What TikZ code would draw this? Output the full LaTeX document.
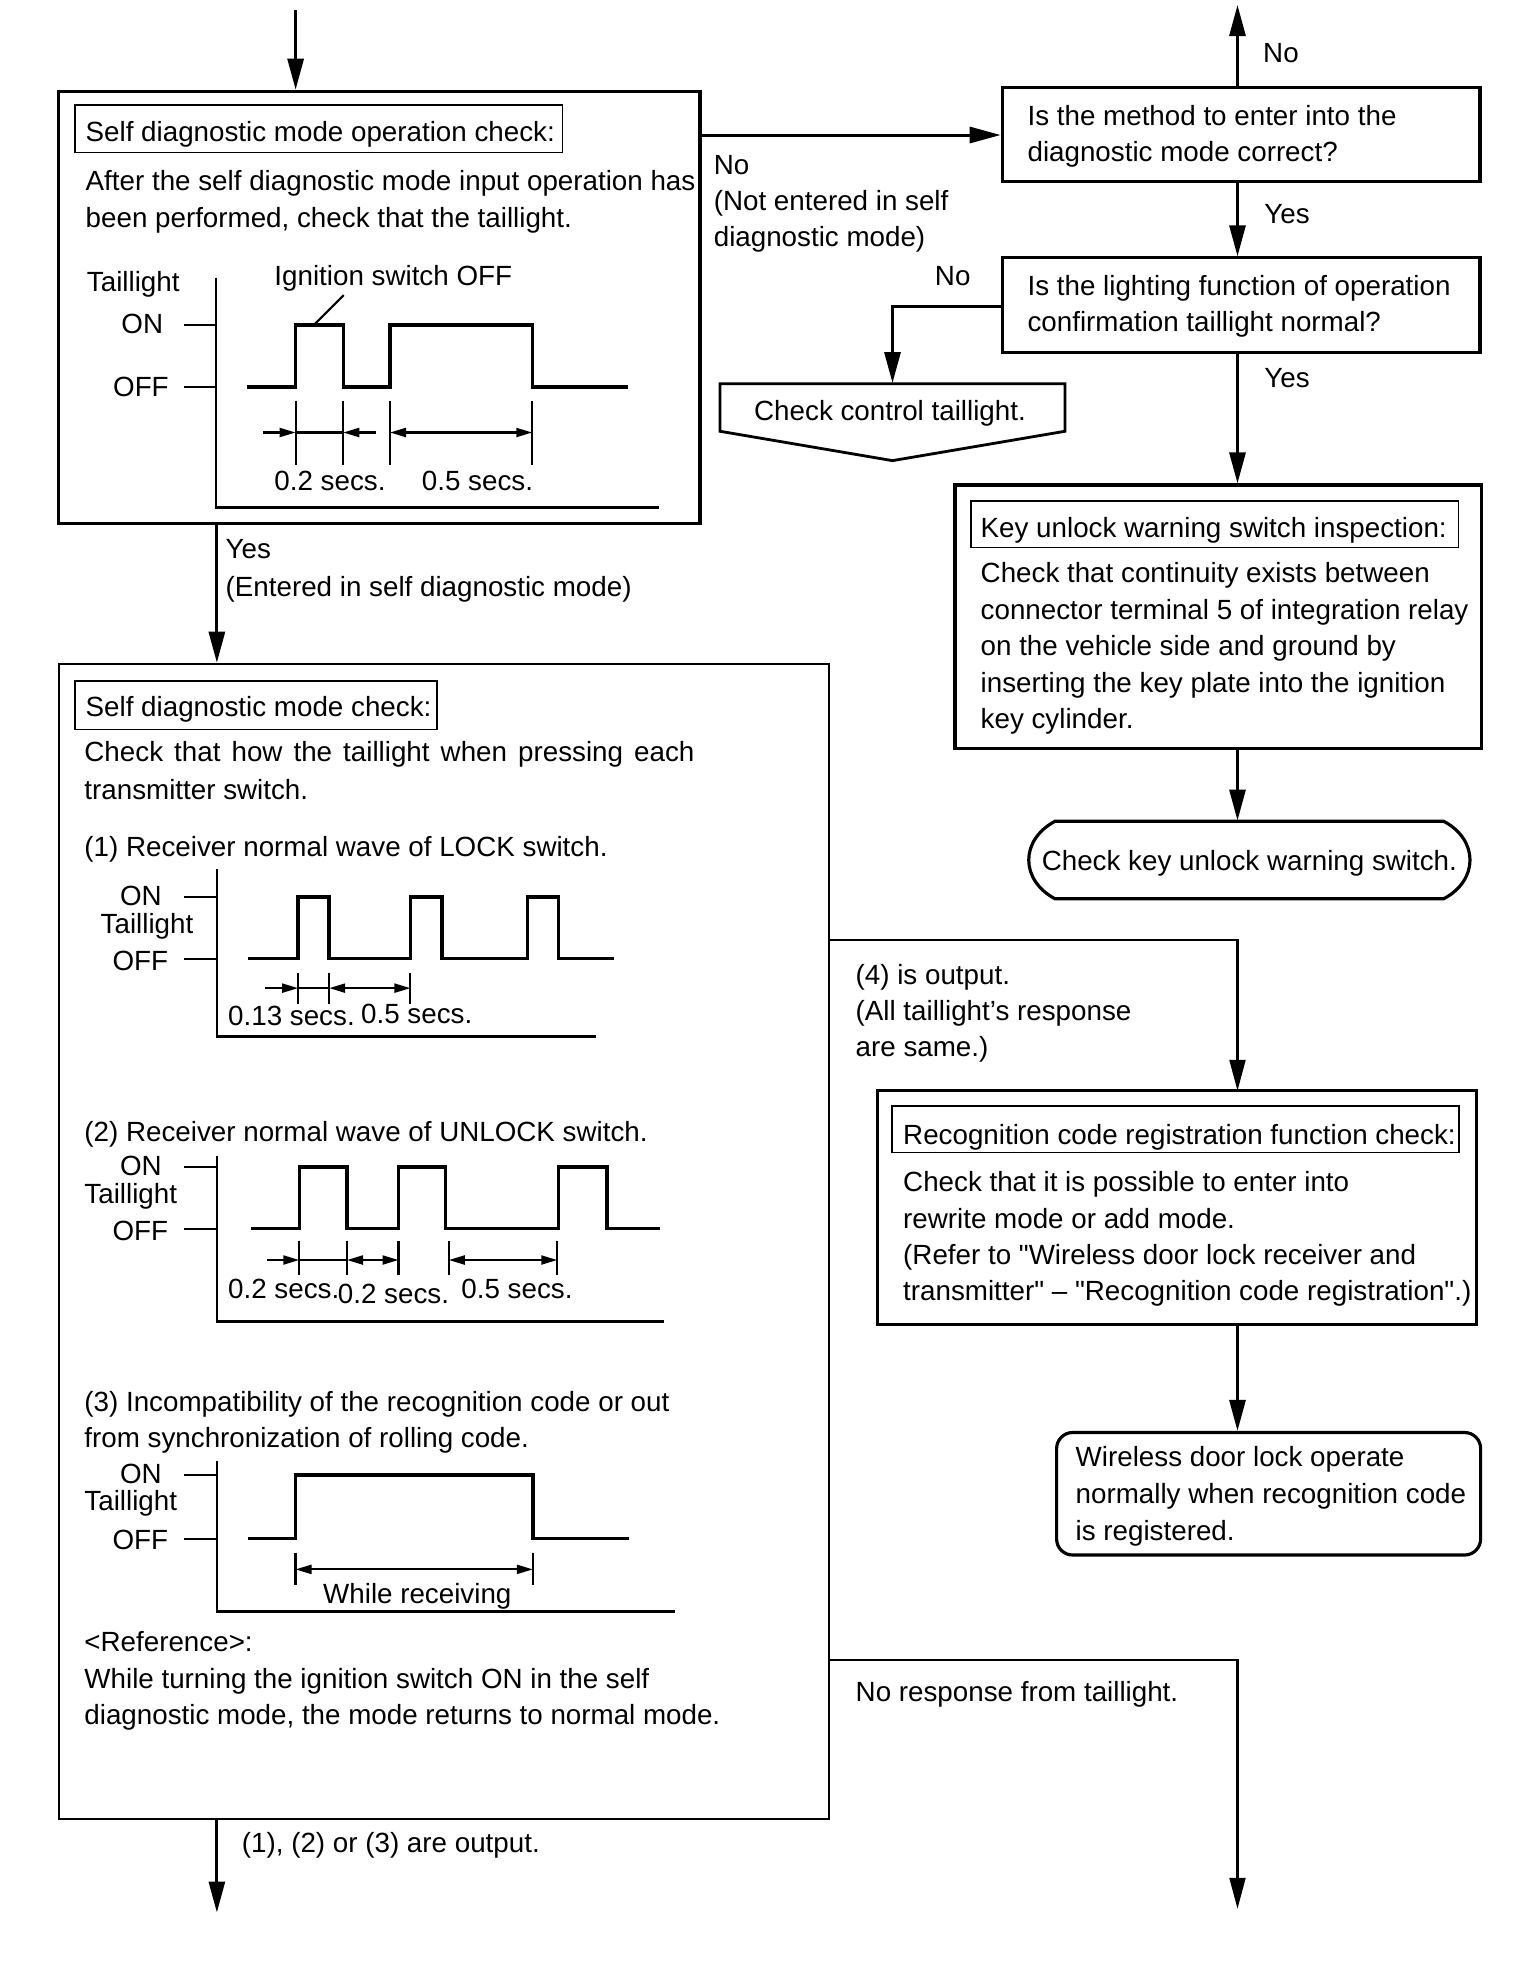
\documentclass[tikz,border=0pt]{standalone}
\usepackage{fontspec}
\setmainfont{Liberation Sans}
\usetikzlibrary{arrows.meta,fit}
\newcommand{\mlines}[1]{\begin{tabular}[t]{@{}l@{}}#1\end{tabular}}
\newcommand{\sq}{\XeTeXglyph\XeTeXcharglyph"22\relax}
\begin{document}
\begin{tikzpicture}[x=0.125mm,y=-0.125mm,
  font=\fontsize{7.9}{10.6}\selectfont,
  box/.style={draw, line width=0.9pt, inner sep=0},
  thinbox/.style={draw, line width=0.6pt, inner sep=0},
  tbox/.style={draw, line width=0.5pt, inner sep=0},
  txt/.style={inner sep=0, anchor=base west},
  tight/.style={font=\fontsize{7.9}{10.3}\selectfont},
  arr/.style={line width=0.85pt, -{Triangle[length=3.1mm,width=1.6mm]}},
  tarr/.style={line width=0.6pt, -{Triangle[length=3.1mm,width=1.6mm]}},
  wave/.style={line width=0.95pt},
  axis/.style={line width=0.7pt},
  dim/.style={line width=0.6pt},
  dtip/.style={line width=0.6pt, -{Triangle[length=1.6mm,width=0.9mm]}},
  ddtip/.style={line width=0.6pt, {Triangle[length=1.6mm,width=0.9mm]}-{Triangle[length=1.6mm,width=0.9mm]}},
]
\useasboundingbox (0,0) rectangle (1216,1574.4);

% ---------- helper coordinates ----------
\coordinate (ax) at (173.5,0);
\coordinate (cx) at (990,0);
\coordinate (top) at (236.5,8);
\coordinate (upend) at (990,4);
\coordinate (a1) at (560,108);
\coordinate (c1) at (714,245);
\coordinate (e1) at (663,752);
\coordinate (e2) at (663,1328);
\coordinate (endL) at (173.5,1530);
\coordinate (endR) at (990,1527);

% ---------- Box A ----------
\node[box, fit={(47,73)(560,419)}] (A) {};
\node[tbox, fit={(60,84)(450,122)}] (At) {};
\node[txt] (Att) at (68,113.5) {Self diagnostic mode operation check:};
\node[txt] (Ab) at (68,152) {\mlines{After the self diagnostic mode input operation has\\been performed, check that the taillight.}};
% chart A
\draw[axis] (173,222) -- (173,406) -- (527,406);
\draw[axis] (147,260) -- (173,260) (147,309.5) -- (173,309.5);
\node[txt] (Atl) at (69,233.5) {Taillight};
\node[txt, anchor=base east] (Aon) at (131,267) {ON};
\node[txt, anchor=base east] (Aoff) at (135.5,317) {OFF};
\draw[wave] (197.8,309.5) -| (236.5,260) -| (274.6,309.5) -| (312,260) -| (425.8,309.5) -- (502,309.5);
\node[txt] (Aig) at (219,228) {Ignition switch OFF};
\draw[dim] (275,236) -- (251,260);
\draw[dim] (236.5,320.5) -- (236.5,372) (274.6,320.5) -- (274.6,372) (312,320.5) -- (312,372) (425.8,320.5) -- (425.8,372);
\draw[dtip] (210.6,346) -- (236.5,346);
\draw[dim] (236.5,346) -- (274.6,346);
\draw[dtip] (300.5,346) -- (274.6,346);
\draw[ddtip] (312,346) -- (425.8,346);
\node[txt] (Ad1) at (219,392) {0.2 secs.};
\node[txt] (Ad2) at (337,392) {0.5 secs.};

% top entry arrow
\draw[arr] (top) -- (A.north -| top);

% ---------- Box E ----------
\node[thinbox, fit={(47.5,531)(663,1455)}] (E) {};
\node[tbox, fit={(60,544.5)(349.6,583.5)}] (Et) {};
\node[txt] (Ett) at (68,573.5) {Self diagnostic mode check:};
\node[txt] (Eb) at (67,609.5) {\mlines{\makebox[61mm][s]{Check that how the taillight when pressing each}\\transmitter switch.}};
\node[txt] (E1) at (67,685.5) {(1) Receiver normal wave of LOCK switch.};
% chart 1
\draw[axis] (173.5,695) -- (173.5,829) -- (477,829);
\draw[axis] (147.5,717.5) -- (173.5,717.5) (147.5,767) -- (173.5,767);
\node[txt, anchor=base east] (C1on) at (130,724) {ON};
\node[txt] (C1tl) at (80,746.5) {Taillight};
\node[txt, anchor=base east] (C1off) at (135,776) {OFF};
\draw[wave] (198.6,767) -| (238.5,717.5) -| (263.3,767) -| (328.3,717.5) -| (353.5,767) -| (422,717.5) -| (446.7,767) -- (491,767);
\draw[dim] (238.5,778) -- (238.5,803) (263.3,778) -- (263.3,803) (328.3,778) -- (328.3,803);
\draw[dtip] (211.6,790.5) -- (238.5,790.5);
\draw[dim] (238.5,790.5) -- (263.3,790.5);
\draw[ddtip] (263.3,790.5) -- (328.3,790.5);
\node[txt] (C1d1) at (182,820.5) {0.13 secs.};
\node[txt] (C1d2) at (288.4,818.5) {0.5 secs.};

\node[txt] (E2) at (67,913.5) {(2) Receiver normal wave of UNLOCK switch.};
% chart 2
\draw[axis] (173.5,925) -- (173.5,1057) -- (531,1057);
\draw[axis] (147.5,933.5) -- (173.5,933.5) (147.5,983) -- (173.5,983);
\node[txt, anchor=base east] (C2on) at (130,940.5) {ON};
\node[txt] (C2tl) at (67,962.5) {Taillight};
\node[txt, anchor=base east] (C2off) at (135,992) {OFF};
\draw[wave] (200.8,983) -| (239.4,933.5) -| (277.6,983) -| (318.8,933.5) -| (356.5,983) -| (446.7,933.5) -| (485.7,983) -- (528.2,983);
\draw[dim] (239.4,993) -- (239.4,1020) (277.6,993) -- (277.6,1020) (318.8,993) -- (318.8,1020) (359,993) -- (359,1020) (445.8,993) -- (445.8,1020);
\draw[dtip] (213.8,1008) -- (239.4,1008);
\draw[dim] (239.4,1008) -- (277.6,1008);
\draw[ddtip] (277.6,1008) -- (318.8,1008);
\draw[ddtip] (359,1008) -- (445.8,1008);
\node[txt] (C2d1) at (182,1038.5) {0.2 secs.};
\node[txt] (C2d2) at (269.8,1042.5) {0.2 secs.};
\node[txt] (C2d3) at (368.6,1038.5) {0.5 secs.};

\node[txt, tight] (E3) at (67,1129) {\mlines{(3) Incompatibility of the recognition code or out\\from synchronization of rolling code.}};
% chart 3
\draw[axis] (173.5,1169) -- (173.5,1289) -- (540,1289);
\draw[axis] (147.5,1180) -- (173.5,1180) (147.5,1231) -- (173.5,1231);
\node[txt, anchor=base east] (C3on) at (130,1186.5) {ON};
\node[txt] (C3tl) at (67,1208) {Taillight};
\node[txt, anchor=base east] (C3off) at (135,1239.5) {OFF};
\draw[wave] (198.2,1231) -| (236.4,1180) -| (426.3,1231) -- (503,1231);
\draw[dim] (236.4,1242) -- (236.4,1268) (426.3,1242) -- (426.3,1268);
\draw[ddtip] (236.4,1255.5) -- (426.3,1255.5);
\node[txt] (C3d) at (258,1282.5) {While receiving};

\node[txt, tight] (Eref) at (67,1321.5) {\mlines{<Reference>:\\While turning the ignition switch ON in the self\\diagnostic mode, the mode returns to normal mode.}};

% A -> E
\draw[arr] (A.south -| ax) -- (E.north -| ax);
\node[txt] (Lyes) at (180,447) {\mlines{Yes\\(Entered in self diagnostic mode)}};

% E -> bottom
\draw[arr] (E.south -| ax) -- (endL);
\node[txt] (Lout) at (193,1482) {(1), (2) or (3) are output.};

% ---------- Right column ----------
\node[box, fit={(801.8,70)(1184,145)}] (B) {};
\node[txt, tight] (Bt) at (821.5,100.5) {\mlines{Is the method to enter into the\\diagnostic mode correct?}};
\node[box, fit={(801.8,206.3)(1184,282.2)}] (C) {};
\node[txt, tight] (Ct) at (821.5,236.5) {\mlines{Is the lighting function of operation\\confirmation taillight normal?}};

\draw[arr] (A.east |- a1) -- (B.west |- a1);
\node[txt, tight] (Lno1) at (570.5,139.5) {\mlines{No\\(Not entered in self\\diagnostic mode)}};

\draw[arr] (B.north -| cx) -- (upend);
\node[txt] (Lno2) at (1010,50) {No};
\draw[arr] (B.south -| cx) -- (C.north -| cx);
\node[txt] (Lyes2) at (1011,179) {Yes};

% pentagon
\node[inner sep=0, fit={(576,307)(852,368.5)}] (P) {};
\draw[line width=0.8pt] (576,307) -- (852,307) -- (852,345) -- (714,368.5) -- (576,345) -- cycle;
\node[txt, anchor=base] (Pt) at (712,336) {Check control taillight.};
\draw[arr] (C.west |- c1) -| (P.north);
\node[txt] (Lno3) at (747.4,228.5) {No};

% box D
\node[box, fit={(764,388)(1185,599)}] (D) {};
\node[tbox, fit={(776.7,401)(1166.7,438)}] (Dt) {};
\node[txt] (Dtt) at (784,430) {Key unlock warning switch inspection:};
\node[txt, font=\fontsize{7.9}{10.4}\selectfont] (Db) at (784,466) {\mlines{Check that continuity exists between\\connector terminal 5 of integration relay\\on the vehicle side and ground by\\inserting the key plate into the ignition\\key cylinder.}};
\draw[arr] (C.south -| cx) -- (D.north -| cx);
\node[txt] (Lyes3) at (1011,310) {Yes};

% terminal
\node[inner sep=0, fit={(821,657)(1177,719)}] (T) {};
\draw[line width=0.9pt] (844,657) -- (1155,657) .. controls (1183,672) and (1183,704) .. (1155,719) -- (844,719) .. controls (816,704) and (816,672) .. (844,657) -- cycle;
\node[txt, anchor=base] (Tt) at (999.5,696) {Check key unlock warning switch.};
\draw[arr] (D.south -| cx) -- (T.north -| cx);

% box F
\draw[tarr] (E.east |- e1) -| (990,872.6);
\node[txt, tight] (L4) at (684,787.5) {\mlines{(4) is output.\\(All taillight’s response\\are same.)}};
\node[box, fit={(701.7,872.6)(1181,1059.4)}] (F) {};
\node[tbox, fit={(713.8,885)(1167.4,922)}] (Ft) {};
\node[txt] (Ftt) at (722,915.5) {Recognition code registration function check:};
\node[txt, tight] (Fb) at (722,953.5) {\mlines{Check that it is possible to enter into\\rewrite mode or add mode.\\(Refer to \sq Wireless door lock receiver and\\transmitter\sq\ – \sq Recognition code registration\sq.)}};

% box G
\node[box, rounded corners=1.6mm, fit={(845.3,1146)(1184.5,1244)}] (G) {};
\node[txt, font=\fontsize{7.9}{10.4}\selectfont] (Gt) at (860,1173.5) {\mlines{Wireless door lock operate\\normally when recognition code\\is registered.}};
\draw[arr] (F.south -| cx) -- (G.north -| cx);

% no response
\draw[tarr] (E.east |- e2) -| (endR);
\node[txt] (Lnr) at (684,1361) {No response from taillight.};
\end{tikzpicture}
\end{document}
